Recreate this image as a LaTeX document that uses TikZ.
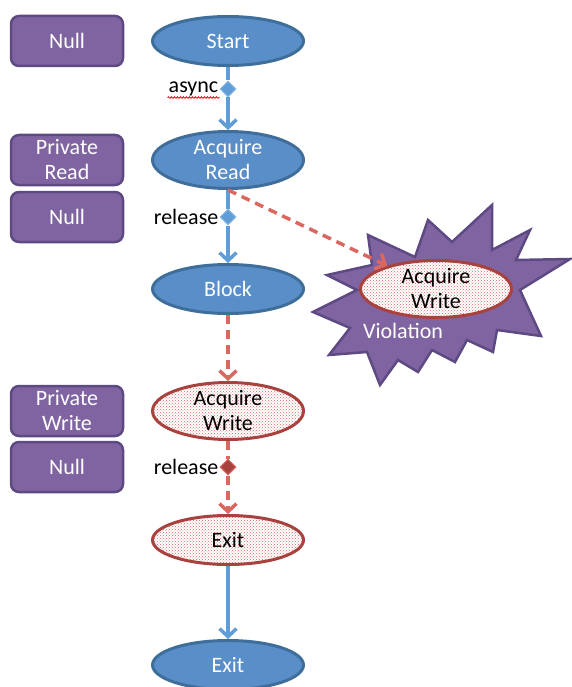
\documentclass[tikz,border=0pt]{standalone}
\usepackage{fontspec}
\setmainfont{Carlito}
\usetikzlibrary{arrows.meta, positioning, shapes.geometric, patterns, decorations.pathmorphing}

\definecolor{nodeblue}{RGB}{89,142,201}
\definecolor{edgeblue}{RGB}{64,110,155}
\definecolor{lineblue}{RGB}{96,156,214}
\definecolor{boxpurple}{RGB}{128,100,162}
\definecolor{boxedge}{RGB}{94,74,130}
\definecolor{dotred}{RGB}{200,70,65}
\definecolor{rimred}{RGB}{168,66,62}
\definecolor{dashred}{RGB}{218,104,96}

\begin{document}
\begin{tikzpicture}[x=1pt, y=-1pt, >={Straight Barb[length=8pt,width=17pt]}, node distance=119pt and 161pt, on grid, font=\fontsize{22}{25}\selectfont]
      \tikzstyle{blue state}=[ellipse, fill=nodeblue, draw=edgeblue, line width=3pt, text=white, minimum width=151pt, minimum height=49pt, inner sep=0pt, align=center]
      \tikzstyle{red state}=[ellipse, preaction={fill=white}, pattern=crosshatch dots, pattern color=dotred!80, draw=rimred, line width=3pt, text=black, minimum width=151pt, minimum height=49pt, inner sep=0pt, align=center]
      \tikzstyle{side box}=[rectangle, rounded corners=8pt, fill=boxpurple, draw=boxedge, line width=2.5pt, text=white, minimum width=112pt, minimum height=50pt, inner sep=0pt, align=center]
      \tikzstyle{hinge}=[diamond, fill=lineblue, draw=lineblue!70!white, line width=1pt, minimum size=16pt, inner sep=0pt]
      \tikzstyle{label text}=[text=black, anchor=east, inner sep=1pt]
      \tikzstyle{flow}=[lineblue, line width=3.5pt]
      \tikzstyle{weak}=[dashred, line width=3.5pt, dash pattern=on 9pt off 6pt]
      \useasboundingbox (0,0) rectangle (571,687);
      % main thread
      \node[blue state] (start) at (228,41) {Start};
      \node[blue state] (acqR) [below=119pt of start] {Acquire\\Read};
      \node[blue state] (block) [below=129pt of acqR] {Block};
      \node[red state] (acqW) [below=122pt of block] {Acquire\\Write};
      \node[red state] (exitR) [below=129pt of acqW] {Exit};
      \node[blue state] (exit) [below=125pt of exitR] {Exit};
      \node[hinge] (async) [below=48pt of start] {};
      \node[hinge] (release1) [below=57pt of acqR] {};
      \node[hinge, fill=rimred, draw=dashred] (release2) [below=56pt of acqW] {};
      \node[label text] (asyncl) at (async.west) {async};
      \node[label text] (releasel1) at (release1.west) {release};
      \node[label text] (releasel2) at (release2.west) {release};
      \draw[red, line width=0.8pt, decorate, decoration={snake, amplitude=0.8pt, segment length=3pt}] ([yshift=-5pt]asyncl.base west) -- ([yshift=-5pt]asyncl.base east);
      % states on the left
      \node[side box] (null1) [left=161pt of start] {Null};
      \node[side box] (privR) [left=161pt of acqR] {Private\\Read};
      \node[side box] (null2) [left=161pt of release1] {Null};
      \node[side box] (privW) [left=161pt of acqW] {Private\\Write};
      \node[side box] (null3) [left=161pt of release2] {Null};
      % violation
      \filldraw[fill=boxpurple, draw=boxedge, line width=2.5pt, line join=miter] (492,205) -- (492,250) -- (530,230) -- (516,260) -- (570,259) -- (520,290) -- (541,336) -- (497,330) -- (493,352) -- (467,340) -- (455,362) -- (432,350) -- (418,372) -- (398,360) -- (380,385) -- (367,352) -- (329,355) -- (350,328) -- (313,312) -- (357,290) -- (327,275) -- (372,265) -- (368,235) -- (415,257) -- (428,220) -- (452,242) -- cycle;
      \node[red state] (vacq) at (436,289) {Acquire\\Write};
      \node[text=white] (viol) at (403,331) {Violation};
      % edges
      \draw[flow] (start) -- (async);
      \draw[flow, ->] (async) -- (acqR);
      \draw[flow] (acqR) -- (release1);
      \draw[flow, ->] (release1) -- (block);
      \draw[weak, ->] (acqR.south) -- (vacq);
      \draw[weak, ->] (block) -- (acqW);
      \draw[weak] (acqW) -- (release2);
      \draw[weak, ->] (release2) -- (exitR);
      \draw[flow, ->] (exitR) -- (exit);
\end{tikzpicture}
\end{document}
